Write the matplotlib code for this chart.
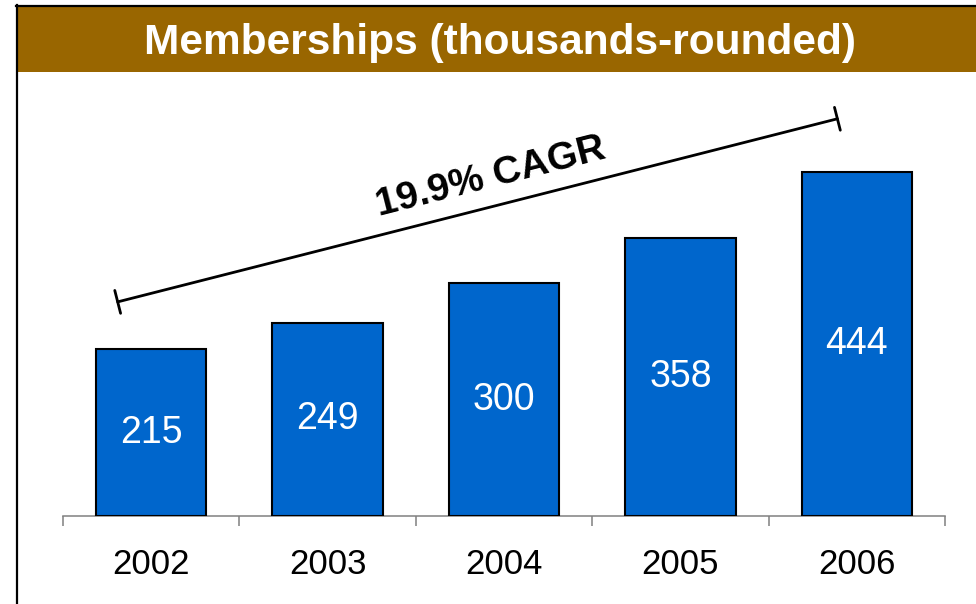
import math
import matplotlib.pyplot as plt
from matplotlib.patches import Rectangle
from matplotlib.lines import Line2D

years = ['2002', '2003', '2004', '2005', '2006']
members = [215, 249, 300, 358, 444]
cagr_label = '19.9% CAGR'
title = 'Memberships (thousands-rounded)'

brown = '#996600'
blue = '#0066CC'
font = 'Liberation Sans'

W, H = 976, 604
fig = plt.figure(figsize=(W / 100, H / 100), dpi=100)
fig.patch.set_facecolor('white')

# header band and frame
fig.add_artist(Rectangle((17 / W, 1 - 72 / H), 1, 65 / H, transform=fig.transFigure,
                         facecolor=brown, edgecolor='none'))
fig.add_artist(Line2D([16.5 / W, 16.5 / W], [0, 1 - 5 / H], transform=fig.transFigure,
                      color='black', lw=1.6))
fig.add_artist(Line2D([15.7 / W, 1], [1 - 5.5 / H, 1 - 5.5 / H], transform=fig.transFigure,
                      color='black', lw=1.6))
fig.text(500 / W, 1 - 54 / H, title, ha='center', va='baseline', color='white',
         fontsize=30.5, fontweight='bold', family=font)

# bars
ax = fig.add_axes([63 / W, 88 / H, 882 / W, 436 / H])
x = list(range(len(years)))
ax.bar(x, members, width=0.625, color=blue, edgecolor='black', linewidth=1.5, zorder=3)
for xi, v in zip(x, members):
    ax.text(xi, v / 2, str(v), ha='center', va='center', color='white',
            fontsize=27, family=font, zorder=4)

ax.set_xlim(-0.5, len(years) - 0.5)
ax.set_ylim(0, 562)
for s in ['top', 'right', 'left']:
    ax.spines[s].set_visible(False)
ax.spines['bottom'].set_color('#808080')
ax.spines['bottom'].set_linewidth(1.1)
ax.set_yticks([])
ax.set_xticks(x)
ax.set_xticklabels(years, fontsize=25, family=font)
ax.tick_params(axis='x', which='major', length=0, pad=23)
ax.set_xticks([i - 0.5 for i in range(len(years) + 1)], minor=True)
ax.tick_params(axis='x', which='minor', length=7.5, width=1.1, color='#808080', direction='out')

# growth bracket
p0 = (-0.19, 276)
p1 = (3.89, 512)
ax.annotate('', xy=p1, xytext=p0,
            arrowprops=dict(arrowstyle='|-|,widthA=0.85,widthB=0.85', lw=2,
                            color='black', shrinkA=0, shrinkB=0), zorder=5)
d0 = ax.transData.transform(p0)
d1 = ax.transData.transform(p1)
ang = math.degrees(math.atan2(d1[1] - d0[1], d1[0] - d0[0]))
ax.text(1.926, 436, cagr_label, rotation=ang, rotation_mode='anchor',
        ha='center', va='center', fontsize=28, fontweight='bold', family=font)

fig.savefig('out.png', dpi=100)
